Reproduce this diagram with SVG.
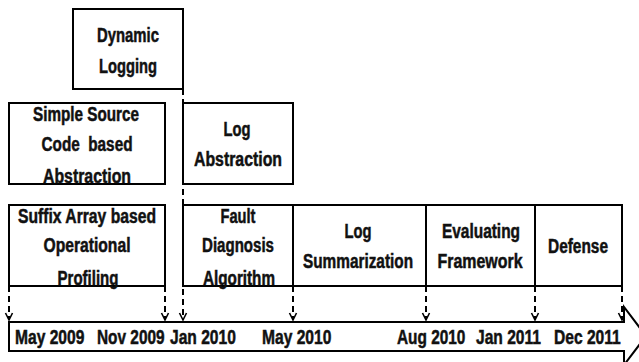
<svg xmlns="http://www.w3.org/2000/svg" width="639" height="362" viewBox="0 0 639 362">
<style>
.box{fill:none;stroke:#000;stroke-width:2}
.t{font-family:"Liberation Sans",Arial,sans-serif;font-weight:bold;font-size:20px;fill:#111;stroke:#111;stroke-width:0.5;text-anchor:middle;white-space:pre}
.d{font-family:"Liberation Sans",Arial,sans-serif;font-weight:bold;font-size:20px;fill:#111;stroke:#111;stroke-width:0.5}
.dash{stroke:#000;stroke-width:2;stroke-dasharray:6 4;fill:none}
</style>
<defs>
<marker id="ah" markerWidth="10" markerHeight="10" refX="8" refY="4" orient="auto" markerUnits="userSpaceOnUse" viewBox="0 0 10 8">
<path d="M1,0.5 L8,4 L1,7.5" fill="none" stroke="#000" stroke-width="1.6"/>
</marker>
</defs>
<rect width="639" height="362" fill="#fff"/>
<g id="connectors">
<line class="dash" x1="183" y1="89" x2="183" y2="320" marker-end="url(#ah)"/>
<line class="dash" x1="9" y1="286" x2="9" y2="320" marker-end="url(#ah)"/>
<line class="dash" x1="165" y1="286" x2="165" y2="320" marker-end="url(#ah)"/>
<line class="dash" x1="293" y1="286" x2="293" y2="320" marker-end="url(#ah)"/>
<line class="dash" x1="426" y1="286" x2="426" y2="320" marker-end="url(#ah)"/>
<line class="dash" x1="535" y1="286" x2="535" y2="320" marker-end="url(#ah)"/>
<line class="dash" x1="622" y1="286" x2="622" y2="320" marker-end="url(#ah)"/>
</g>
<g id="dynamic-logging">
<rect class="box" x="73" y="9" width="110" height="80" fill="#fff"/>
<text class="t" x="128" y="42" textLength="62" lengthAdjust="spacingAndGlyphs">Dynamic</text>
<text class="t" x="128" y="73" textLength="58" lengthAdjust="spacingAndGlyphs">Logging</text>
</g>
<g id="simple-source">
<rect class="box" x="9" y="103" width="156" height="81"/>
<text class="t" x="86" y="121" textLength="106" lengthAdjust="spacingAndGlyphs">Simple Source</text>
<text class="t" x="87" y="151" textLength="91" lengthAdjust="spacingAndGlyphs">Code  based</text>
<text class="t" x="87" y="183" textLength="88" lengthAdjust="spacingAndGlyphs">Abstraction</text>
</g>
<g id="log-abstraction">
<rect class="box" x="183" y="103" width="110" height="81"/>
<text class="t" x="237" y="136" textLength="27" lengthAdjust="spacingAndGlyphs">Log</text>
<text class="t" x="238" y="166" textLength="88" lengthAdjust="spacingAndGlyphs">Abstraction</text>
</g>
<g id="suffix-array">
<rect class="box" x="9" y="205" width="156" height="81"/>
<text class="t" x="87" y="223" textLength="138" lengthAdjust="spacingAndGlyphs">Suffix Array based</text>
<text class="t" x="87" y="252" textLength="87" lengthAdjust="spacingAndGlyphs">Operational</text>
<text class="t" x="88" y="285" textLength="61" lengthAdjust="spacingAndGlyphs">Profiling</text>
</g>
<g id="fault-diagnosis">
<rect class="box" x="183" y="205" width="110" height="81"/>
<text class="t" x="238" y="223" textLength="35" lengthAdjust="spacingAndGlyphs">Fault</text>
<text class="t" x="238" y="252" textLength="72" lengthAdjust="spacingAndGlyphs">Diagnosis</text>
<text class="t" x="239" y="285" textLength="72" lengthAdjust="spacingAndGlyphs">Algorithm</text>
</g>
<g id="log-summarization">
<rect class="box" x="293" y="205" width="133" height="81"/>
<text class="t" x="358" y="238" textLength="27" lengthAdjust="spacingAndGlyphs">Log</text>
<text class="t" x="358" y="268" textLength="110" lengthAdjust="spacingAndGlyphs">Summarization</text>
</g>
<g id="evaluating-framework">
<rect class="box" x="426" y="205" width="109" height="81"/>
<text class="t" x="481" y="238" textLength="78" lengthAdjust="spacingAndGlyphs">Evaluating</text>
<text class="t" x="480" y="268" textLength="85" lengthAdjust="spacingAndGlyphs">Framework</text>
</g>
<g id="defense">
<rect class="box" x="535" y="205" width="87" height="81"/>
<text class="t" x="578" y="253" textLength="60" lengthAdjust="spacingAndGlyphs">Defense</text>
</g>
<g id="timeline">
<polygon points="9,322 624,322 624,307 646,336 624,365 624,351 9,351" fill="#fff" stroke="#000" stroke-width="2"/>
<text class="d" transform="translate(15,344) scale(0.78,1)">May 2009</text>
<text class="d" transform="translate(97,344) scale(0.77,1)">Nov 2009</text>
<text class="d" transform="translate(170,344) scale(0.78,1)">Jan 2010</text>
<text class="d" transform="translate(262,344) scale(0.78,1)">May 2010</text>
<text class="d" transform="translate(397,344) scale(0.77,1)">Aug 2010</text>
<text class="d" transform="translate(476,344) scale(0.78,1)">Jan 2011</text>
<text class="d" transform="translate(554,344) scale(0.78,1)">Dec 2011</text>
</g>
</svg>
